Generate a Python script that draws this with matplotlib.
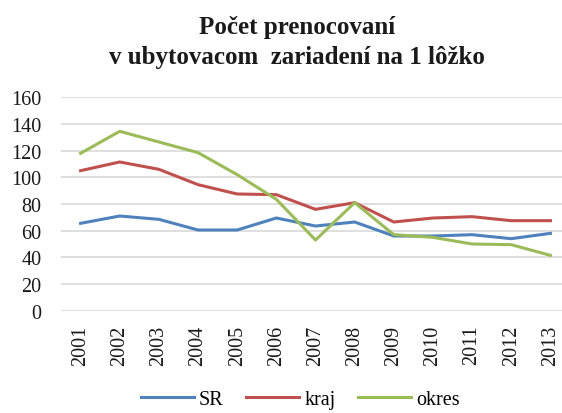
import numpy as np
import matplotlib.pyplot as plt

plt.rcParams['font.family'] = ['Liberation Serif', 'DejaVu Serif']

years = ['2001', '2002', '2003', '2004', '2005', '2006', '2007',
         '2008', '2009', '2010', '2011', '2012', '2013']
sr = [65.5, 71, 68.5, 60.5, 60.5, 69.5, 63.5, 66.5, 56, 56, 57, 54, 58]
kraj = [105, 111.5, 106, 94.5, 87.5, 87, 76, 81, 66.5, 69.5, 70.5, 67.5, 67.5]
okres = [118, 134.5, 126.5, 118.5, 102, 83.5, 53, 81, 57, 55, 50, 49.5, 41.5]

fig = plt.figure(figsize=(5.62, 4.14), dpi=100)
# axes run slightly past the right edge, as in the exported chart
ax = fig.add_axes([61 / 562, 1 - 311.7 / 414, (570 - 61) / 562, 213.4 / 414])

x = np.arange(len(years))
ax.plot(x, sr, color='#4F81BD', lw=2.2, label='SR')
ax.plot(x, kraj, color='#C0504D', lw=2.2, label='kraj')
ax.plot(x, okres, color='#9BBB59', lw=2.2, label='okres')

ax.set_xlim(-0.5, len(years) - 0.5)
ax.set_ylim(0, 160)
ax.set_yticks(range(0, 161, 20))
ax.set_xticks(x)
ax.set_xticklabels(years, rotation=90)
ax.tick_params(axis='both', length=0, labelsize=14.5, colors='#1a1a1a')
ax.tick_params(axis='y', pad=14)
ax.tick_params(axis='x', pad=10)
ax.grid(axis='y', color='#d9d9d9', lw=1.2)
ax.set_axisbelow(True)
for s in ax.spines.values():
    s.set_visible(False)

fig.text(0.528, 0.962, 'Počet prenocovaní\nv ubytovacom  zariadení na 1 lôžko',
         ha='center', va='top', fontsize=18, fontweight='bold',
         linespacing=1.38, color='#1a1a1a')

fig.legend(loc='center', bbox_to_anchor=(0.534, 0.032), ncol=3, frameon=False,
           fontsize=14.5, handlelength=2.65, columnspacing=1.1,
           handletextpad=0.25)

fig.savefig('out.png', dpi=100)
